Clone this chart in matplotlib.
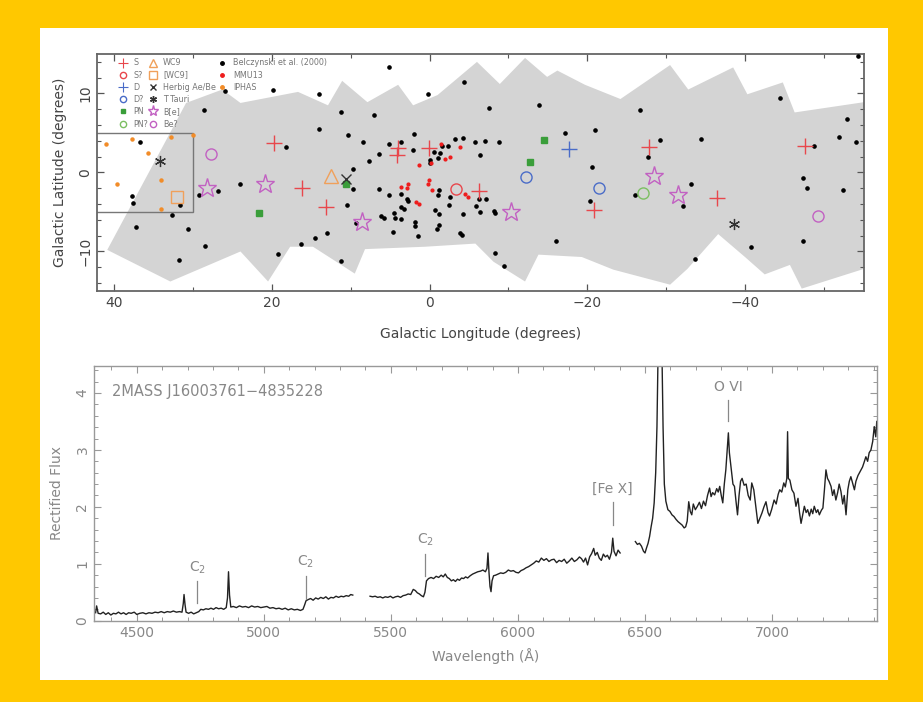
import numpy as np
import matplotlib
matplotlib.use("Agg")
import matplotlib.pyplot as plt
from matplotlib.patches import Polygon, Rectangle
from matplotlib.lines import Line2D
from matplotlib.ticker import MultipleLocator

# ---- survey footprint outline (l, b): along the top, then back along the bottom
foot_l = [40.9, 30.9, 26.3, 24.0, 16.7, 12.9, 11.1, 7.9, 4.0, 2.1, -1.0, -6.0,
          -8.9, -12.1, -14.9, -16.2, -19.7, -24.2, -30.5, -32.8, -38.5, -40.3,
          -44.8, -46.3, -55.1, -55.1, -47.2, -45.7, -42.5, -40.0, -36.6, -32.7,
          -30.5, -23.3, -19.3, -13.8, -12.1, -8.1, -5.8, 0.6, 8.2, 9.5, 14.8,
          17.7, 20.5, 24.0, 32.9]
foot_b = [-9.8, 8.8, 10.5, 8.8, 10.2, 8.5, 11.6, 8.9, 11.1, 8.5, 9.8, 14.0,
          11.2, 14.5, 12.1, 12.9, 11.1, 9.3, 13.6, 10.5, 13.3, 9.9,
          11.4, 7.6, 8.9, -12.2, -14.7, -11.7, -12.9, -10.7, -7.8, -12.2,
          -14.2, -12.3, -10.7, -10.4, -13.8, -11.3, -9.0, -9.4, -9.7, -12.8, -9.4,
          -9.4, -13.8, -10.0, -13.8]

# ---- Belczynski et al. (2000)
bel_l = [26.0, 19.9, 28.6, 36.8, 18.2, 37.8, 37.6, 31.7, 32.7, 26.8, 29.2, 24.0,
         37.3, 30.7, 28.5, 31.8, 19.2, 5.1, -4.4, 0.2, 14.0, 11.3, 7.0, 14.1,
         10.3, 2.0, 8.4, 5.1, 3.6, 2.1, 6.4, 7.7, 9.7, -1.6, -2.3, -3.2, -4.2,
         -5.8, -0.6, -1.3, -0.1, -0.1, -1.0, 9.7, 6.4, 5.1, 3.7, 10.5, 2.7, 2.9,
         3.7, 3.2, 4.5, 6.2, 5.8, 4.4, 3.6, 1.9, 1.8, 1.5, 4.7, -1.2, -1.0, -2.6,
         -2.5, -0.7, -1.2, -4.2, -3.9, -4.1, -1.2, -0.9, 13.0, 14.6, 16.3, 11.3,
         9.3, -7.5, -13.9, -17.2, -21.0, -26.7, -29.2, -27.7, -20.6, -44.5, -52.9,
         -51.9, -54.1, -48.8, -34.4, -47.3, -47.9, -52.4, -33.1, -32.1, -26.1,
         -20.3, -16.0, -8.3, -9.4, -40.7, -33.6, -47.3, -54.3, -7.0, -8.8, -6.4,
         -6.2, -7.1, -5.9, -6.4, -8.1, -8.3]
bel_b = [10.3, 10.4, 7.9, 3.9, 3.2, -3.0, -3.9, -4.1, -5.4, -2.4, -2.8, -1.5,
         -6.9, -7.2, -9.3, -11.1, -10.3, 13.3, 11.5, 9.9, 9.9, 7.6, 7.3, 5.5,
         4.7, 4.9, 3.8, 3.6, 3.9, 2.9, 2.4, 1.5, 0.4, 3.3, 3.3, 4.2, 4.4,
         3.9, 2.6, 2.5, 1.6, 1.2, 1.8, -2.1, -2.1, -2.8, -2.7, -4.1, -3.6, -3.3,
         -4.4, -4.6, -5.1, -5.5, -5.8, -5.7, -5.9, -6.3, -6.8, -8.1, -7.5, -2.2, -2.8, -3.1,
         -4.1, -4.7, -5.3, -5.3, -7.7, -7.9, -6.7, -7.1, -7.7, -8.3, -9.1, -11.2,
         -6.4, 8.2, 8.5, 5.0, 5.4, 7.9, 4.1, 2.0, 0.7, 9.4, 6.8,
         4.5, 3.9, 3.4, 4.2, -0.7, -2.0, -2.2, -1.4, -4.3, -2.8,
         -3.6, -8.7, -10.2, -11.8, -9.4, -11.0, -8.7, 14.7, 4.0, 3.9, 2.2,
         -3.4, -3.4, -4.2, -5.0, -4.9, -5.1]

# ---- MMU13
mmu_l = [-1.5, -3.9, -2.6, -2.0, -0.2, 1.3, 3.6, 2.8, 2.9, 0.1, 0.2, -0.3, 1.7, 1.3, -4.5, -4.8]
mmu_b = [3.6, 3.2, 2.0, 1.7, 1.2, 1.0, -1.8, -1.4, -2.0, -1.0, -1.4, -2.2, -3.7, -4.0, -2.7, -3.1]

# ---- IPHAS
iph_l = [41.1, 37.8, 35.7, 39.7, 34.1, 32.8, 30.0, 34.1]
iph_b = [3.6, 4.3, 2.5, -1.4, -1.0, 4.5, 4.7, -4.6]

# ---- classified objects
s_l = [19.7, 16.2, 13.1, 4.0, 4.2, 0.1, -6.3, -20.8, -27.8, -36.4, -47.6]
s_b = [3.7, -2.0, -4.4, 3.1, 2.2, 3.1, -2.4, -4.7, 3.2, -3.2, 3.3]
sq_l, sq_b = [-3.4], [-2.1]
d_l, d_b = [-17.7], [3.0]
dq_l, dq_b = [-12.2, -21.5], [-0.6, -2.0]
pn_l, pn_b = [-14.5, -12.7, 10.6, 21.6], [4.1, 1.3, -1.5, -5.1]
pnq_l, pnq_b = [-27.1], [-2.6]
wc9_l, wc9_b = [12.5], [-0.4]
wc9b_l, wc9b_b = [32.1], [-3.1]
hae_l, hae_b = [10.6], [-0.8]
tt_l, tt_b = [34.2, -38.6], [1.5, -6.5]
bE_l = [28.2, 20.9, 8.6, -10.3, -28.4, -31.5]
bE_b = [-2.0, -1.4, -6.3, -5.0, -0.5, -2.9]
beq_l, beq_b = [27.8, -49.2], [2.4, -5.5]

# ---- spectrum of 2MASS J16003761-4835228 (three pieces, gaps between)
wl1 = [4338, 4342, 4348, 4358, 4368, 4378, 4388, 4398, 4408, 4418, 4428, 4438, 4448,
       4458, 4468, 4478, 4490, 4500, 4512, 4524, 4536, 4548, 4560, 4572, 4584, 4596,
       4608, 4620, 4632, 4644, 4656, 4668, 4678, 4683, 4686, 4690, 4694, 4704, 4714,
       4724, 4734, 4744, 4752, 4762, 4772, 4782, 4792, 4802, 4812, 4822, 4832, 4842,
       4852, 4857, 4861, 4865, 4870, 4880, 4892, 4904, 4916, 4928, 4940, 4952, 4964,
       4976, 4988, 5000, 5012, 5024, 5036, 5048, 5060, 5072, 5084, 5096, 5108, 5120,
       5132, 5144, 5154, 5160, 5166, 5174, 5184, 5194, 5204, 5214, 5224, 5234, 5244,
       5254, 5264, 5274, 5284, 5294, 5304, 5314, 5324, 5334, 5342, 5350]
fx1 = [0.14, 0.26, 0.13, 0.12, 0.15, 0.11, 0.14, 0.10, 0.13, 0.12, 0.15, 0.12, 0.14,
       0.11, 0.14, 0.13, 0.15, 0.11, 0.13, 0.14, 0.12, 0.14, 0.13, 0.15, 0.14, 0.16,
       0.14, 0.16, 0.15, 0.17, 0.15, 0.16, 0.15, 0.30, 0.46, 0.28, 0.15, 0.13, 0.15,
       0.12, 0.14, 0.16, 0.20, 0.19, 0.21, 0.20, 0.22, 0.20, 0.23, 0.21, 0.22, 0.20,
       0.23, 0.40, 0.86, 0.45, 0.24, 0.25, 0.23, 0.26, 0.24, 0.25, 0.23, 0.26, 0.24,
       0.25, 0.23, 0.24, 0.25, 0.22, 0.23, 0.21, 0.22, 0.20, 0.22, 0.19, 0.21, 0.19,
       0.20, 0.18, 0.20, 0.27, 0.35, 0.37, 0.39, 0.36, 0.40, 0.38, 0.41, 0.39, 0.42,
       0.38, 0.41, 0.40, 0.43, 0.41, 0.43, 0.42, 0.44, 0.43, 0.46, 0.45]
wl2 = [5418, 5428, 5438, 5448, 5458, 5468, 5478, 5488, 5498, 5508, 5518, 5528, 5538,
       5548, 5558, 5568, 5578, 5588, 5596, 5604, 5612, 5620, 5628, 5634, 5640, 5648,
       5658, 5668, 5678, 5688, 5698, 5706, 5714, 5722, 5730, 5738, 5746, 5754, 5762,
       5770, 5778, 5786, 5794, 5802, 5812, 5822, 5832, 5842, 5852, 5862, 5872, 5878,
       5882, 5886, 5890, 5894, 5898, 5904, 5912, 5922, 5932, 5942, 5952, 5962, 5972,
       5982, 5992, 6002, 6012, 6022, 6032, 6042, 6052, 6062, 6072, 6082, 6092, 6102,
       6112, 6122, 6132, 6142, 6152, 6162, 6172, 6182, 6192, 6202, 6212, 6222, 6232,
       6242, 6250, 6258, 6266, 6274, 6282, 6290, 6298, 6304, 6312, 6320, 6328, 6336,
       6344, 6352, 6360, 6368, 6373, 6378, 6386, 6394, 6402]
fx2 = [0.43, 0.42, 0.43, 0.41, 0.42, 0.40, 0.42, 0.41, 0.43, 0.40, 0.42, 0.43, 0.41,
       0.44, 0.45, 0.47, 0.46, 0.55, 0.53, 0.49, 0.47, 0.44, 0.42, 0.50, 0.70, 0.74,
       0.76, 0.74, 0.78, 0.76, 0.80, 0.77, 0.82, 0.76, 0.74, 0.70, 0.72, 0.69, 0.73,
       0.71, 0.75, 0.74, 0.77, 0.75, 0.79, 0.82, 0.84, 0.86, 0.87, 0.89, 0.86, 0.92,
       1.19, 0.85, 0.60, 0.51, 0.70, 0.79, 0.80, 0.82, 0.84, 0.83, 0.85, 0.89, 0.87,
       0.88, 0.85, 0.84, 0.88, 0.90, 0.93, 0.95, 0.98, 1.01, 1.05, 1.03, 1.10, 1.06,
       1.09, 1.04, 1.07, 1.08, 1.02, 1.06, 1.04, 1.08, 1.01, 1.05, 1.10, 1.04, 1.07,
       1.12, 1.09, 1.03, 1.10, 0.98, 1.12, 1.18, 1.27, 1.15, 1.20, 1.10, 1.06, 1.17,
       1.12, 1.15, 1.08, 1.20, 1.45, 1.22, 1.14, 1.24, 1.19]
wl3 = [6462, 6470, 6478, 6486, 6494, 6500, 6506, 6512, 6518, 6524, 6530, 6536, 6542,
       6547, 6551, 6556, 6562, 6567, 6571, 6576, 6582, 6590, 6598, 6606, 6614, 6622,
       6630, 6638, 6646, 6654, 6660, 6666, 6672, 6678, 6684, 6690, 6698, 6706, 6714,
       6722, 6730, 6738, 6746, 6754, 6760, 6766, 6774, 6782, 6788, 6794, 6800, 6806,
       6812, 6818, 6824, 6828, 6832, 6838, 6846, 6852, 6858, 6864, 6870, 6876, 6882,
       6890, 6898, 6906, 6914, 6920, 6928, 6936, 6944, 6952, 6960, 6968, 6976, 6984,
       6990, 6998, 7008, 7016, 7024, 7030, 7038, 7046, 7052, 7058, 7061, 7064, 7070,
       7078, 7086, 7094, 7102, 7108, 7114, 7120, 7127, 7134, 7140, 7147, 7154, 7160,
       7166, 7174, 7180, 7186, 7194, 7200, 7206, 7212, 7218, 7224, 7232, 7238, 7244,
       7251, 7258, 7264, 7271, 7278, 7284, 7291, 7298, 7304, 7310, 7318, 7324, 7330,
       7338, 7344, 7350, 7356, 7362, 7369, 7376, 7382, 7389, 7396, 7402, 7408, 7412]
fx3 = [1.39, 1.34, 1.36, 1.31, 1.22, 1.19, 1.28, 1.36, 1.48, 1.65, 1.80, 2.07, 2.60,
       3.41, 4.60, 6.50, 6.50, 4.60, 3.40, 2.40, 2.10, 1.95, 1.92, 1.86, 1.83, 1.78,
       1.74, 1.71, 1.68, 1.63, 1.65, 1.75, 2.09, 1.92, 1.86, 2.05, 1.95, 2.01, 2.08,
       1.97, 2.10, 2.02, 2.20, 2.33, 2.18, 2.25, 2.21, 2.32, 2.26, 2.36, 2.20, 2.07,
       2.40, 2.65, 3.05, 3.30, 2.95, 2.71, 2.40, 2.36, 2.10, 1.86, 2.20, 2.45, 2.50,
       2.38, 2.40, 2.20, 2.12, 2.42, 2.30, 2.00, 1.71, 1.80, 1.89, 2.00, 2.09, 1.90,
       1.84, 1.95, 2.12, 2.05, 2.22, 2.30, 2.26, 2.42, 2.35, 2.50, 3.32, 2.50, 2.47,
       2.30, 2.24, 2.01, 2.15, 1.90, 1.71, 1.85, 2.01, 1.90, 1.95, 1.84, 1.96, 1.88,
       2.01, 1.90, 1.95, 1.86, 1.94, 1.98, 2.30, 2.65, 2.50, 2.45, 2.36, 2.20, 2.30,
       2.12, 2.25, 2.40, 2.27, 2.05, 2.20, 1.86, 2.30, 2.45, 2.53, 2.40, 2.30, 2.45,
       2.55, 2.60, 2.65, 2.70, 2.78, 2.88, 2.80, 2.95, 3.00, 3.15, 3.41, 3.23, 3.50]

# line identifications: wavelength, tick bottom, tick top, label
line_wl = [4738, 5165, 5636, 6373, 6828]
line_lo = [0.31, 0.39, 0.79, 1.68, 3.50]
line_hi = [0.69, 0.79, 1.17, 2.09, 3.88]
line_txt = ["C$_2$", "C$_2$", "C$_2$", "[Fe X]", "O VI"]

red_c = '#e8474c'
blue_c = '#4a6cc8'
green_c = '#3a9e3a'
greeno_c = '#7cbf62'
orange_c = '#f0a05a'
mag_c = '#c261c2'

fig = plt.figure(figsize=(9.23, 7.02), dpi=100)
fig.patch.set_facecolor('#ffc800')
fig.add_artist(Rectangle((40/923, 1-680/702), 848/923, 652/702, transform=fig.transFigure,
                         facecolor='white', edgecolor='none', zorder=0))

# ================= top panel: galactic map
ax1 = fig.add_axes([0.1051, 0.5855, 0.8310, 0.3376])
ax1.add_patch(Polygon(np.column_stack([foot_l, foot_b]), closed=True,
                      facecolor='#d4d4d4', edgecolor='none', zorder=0))
ax1.add_patch(Rectangle((30, -5), 15, 10, fill=False, edgecolor='#777777', lw=1.0, zorder=1))

ax1.plot(bel_l, bel_b, ls='none', marker='o', color='black', ms=2.3, zorder=3)
ax1.plot(mmu_l, mmu_b, ls='none', marker='o', color='#ee1c1c', ms=2.0, zorder=3)
ax1.plot(iph_l, iph_b, ls='none', marker='o', color='#f28c28', ms=2.2, zorder=3)

sty = dict(ls='none', zorder=4)
ax1.plot(s_l, s_b, marker='+', color=red_c, ms=12, mew=1.0, **sty)
ax1.plot(sq_l, sq_b, marker='o', mfc='none', mec=red_c, ms=8, mew=1.0, **sty)
ax1.plot(d_l, d_b, marker='+', color=blue_c, ms=12, mew=1.0, **sty)
ax1.plot(dq_l, dq_b, marker='o', mfc='none', mec=blue_c, ms=8, mew=1.0, **sty)
ax1.plot(pn_l, pn_b, marker='s', color=green_c, ms=5, **sty)
ax1.plot(pnq_l, pnq_b, marker='o', mfc='none', mec=greeno_c, ms=8, mew=1.0, **sty)
ax1.plot(wc9_l, wc9_b, marker='^', mfc='none', mec=orange_c, ms=10, mew=1.0, **sty)
ax1.plot(wc9b_l, wc9b_b, marker='s', mfc='none', mec=orange_c, ms=9, mew=1.0, **sty)
ax1.plot(hae_l, hae_b, marker='x', color='#333333', ms=7, mew=1.0, **sty)
ax1.plot(tt_l, tt_b, marker=(6, 2, 0), color='#333333', ms=8, mew=0.9, **sty)
ax1.plot(bE_l, bE_b, marker='*', mfc='none', mec=mag_c, ms=14, mew=1.0, **sty)
ax1.plot(beq_l, beq_b, marker='o', mfc='none', mec=mag_c, ms=8, mew=1.0, **sty)

ax1.set_xlim(42.2, -55.1)
ax1.set_ylim(-15, 15)
ax1.xaxis.set_major_locator(MultipleLocator(20))
ax1.xaxis.set_minor_locator(MultipleLocator(10))
ax1.yaxis.set_major_locator(MultipleLocator(10))
ax1.yaxis.set_minor_locator(MultipleLocator(2))
ax1.tick_params(which='both', direction='in', top=True, right=True, colors='#555555',
                labelcolor='#444444', labelsize=10)
ax1.tick_params(which='major', length=5, width=0.9)
ax1.tick_params(which='minor', length=3, width=0.8)
for lab in ax1.get_yticklabels():
    lab.set_rotation(90)
    lab.set_va('center')
for sp in ax1.spines.values():
    sp.set_color('#666666')
    sp.set_linewidth(1.3)
ax1.set_xlabel('Galactic Longitude (degrees)', fontsize=10, color='#444444', labelpad=12)
ax1.set_ylabel('Galactic Latitude (degrees)', fontsize=10, color='#444444', labelpad=8)

# legend, three little columns
def h(**kw):
    return Line2D([], [], ls='none', **kw)

leg_kw = dict(frameon=False, fontsize=5.8, labelspacing=0.4, handlelength=1.0,
              handletextpad=0.8, borderaxespad=0.0, labelcolor='#777777', loc='upper left')
col1 = [h(marker='+', color=red_c, ms=7, mew=0.8), h(marker='o', mfc='none', mec=red_c, ms=4.5),
        h(marker='+', color=blue_c, ms=7, mew=0.8), h(marker='o', mfc='none', mec=blue_c, ms=4.5),
        h(marker='s', color=green_c, ms=3.5), h(marker='o', mfc='none', mec=greeno_c, ms=4.5)]
col2 = [h(marker='^', mfc='none', mec=orange_c, ms=6), h(marker='s', mfc='none', mec=orange_c, ms=5.5),
        h(marker='x', color='#333333', ms=5), h(marker=(6, 2, 0), color='#333333', ms=5),
        h(marker='*', mfc='none', mec=mag_c, ms=8), h(marker='o', mfc='none', mec=mag_c, ms=4.5)]
col3 = [h(marker='o', color='black', ms=2.5), h(marker='o', color='#ee1c1c', ms=2.5),
        h(marker='o', color='#f28c28', ms=2.5)]
leg1 = ax1.legend(col1, ['S', 'S?', 'D', 'D?', 'PN', 'PN?'], bbox_to_anchor=(0.024, 0.995), **leg_kw)
ax1.add_artist(leg1)
leg2 = ax1.legend(col2, ['WC9', '[WC9]', 'Herbig Ae/Be', 'T Tauri', 'B[e]', 'Be?'],
                  bbox_to_anchor=(0.063, 0.995), **leg_kw)
ax1.add_artist(leg2)
ax1.legend(col3, ['Belczynski et al. (2000)', 'MMU13', 'IPHAS'],
           bbox_to_anchor=(0.154, 0.995), **leg_kw)

# ================= bottom panel: spectrum
ax2 = fig.add_axes([0.1022, 0.1158, 0.8480, 0.3633])
for wl, fx in [(wl1, fx1), (wl2, fx2), (wl3, fx3)]:
    ax2.plot(wl, fx, color='#222222', lw=1.0)
for wl, lo, hi, txt in zip(line_wl, line_lo, line_hi, line_txt):
    ax2.plot([wl, wl], [lo, hi], color='#888888', lw=0.9)
    ax2.text(wl, hi + 0.1, txt, ha='center', va='bottom', fontsize=10, color='#888888')
ax2.text(0.022, 0.897, '2MASS J16003761\u22124835228', transform=ax2.transAxes,
         fontsize=10.5, color='#888888', va='center', ha='left')

ax2.set_xlim(4333, 7413)
ax2.set_ylim(0, 4.48)
ax2.xaxis.set_major_locator(MultipleLocator(500))
ax2.xaxis.set_minor_locator(MultipleLocator(100))
ax2.yaxis.set_major_locator(MultipleLocator(1))
ax2.yaxis.set_minor_locator(MultipleLocator(0.2))
ax2.tick_params(which='both', direction='in', top=True, right=True, colors='#999999',
                labelcolor='#888888', labelsize=10)
ax2.tick_params(which='major', length=5, width=0.8)
ax2.tick_params(which='minor', length=3, width=0.7)
for lab in ax2.get_yticklabels():
    lab.set_rotation(90)
    lab.set_va('center')
for sp in ax2.spines.values():
    sp.set_color('#999999')
    sp.set_linewidth(1.0)
ax2.set_xlabel('Wavelength (\u00c5)', fontsize=10, color='#888888', labelpad=6)
ax2.set_ylabel('Rectified Flux', fontsize=10, color='#888888', labelpad=8)

fig.savefig('out.png', dpi=100, facecolor=fig.get_facecolor())
